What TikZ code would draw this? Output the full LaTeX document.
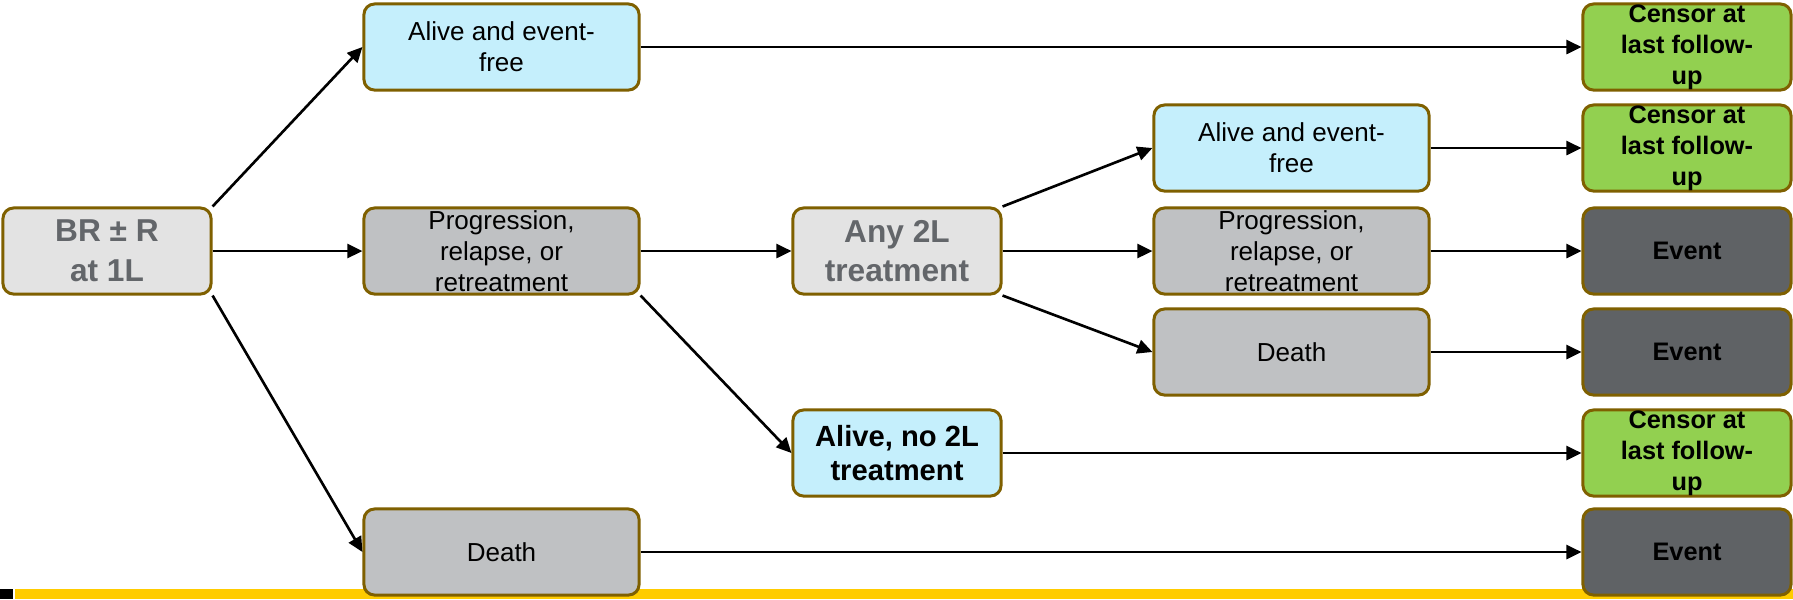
\documentclass[tikz,border=0pt]{standalone}
\usepackage{fontspec}
\setmainfont{Liberation Sans}
\usetikzlibrary{arrows.meta}

\definecolor{edgebrown}{HTML}{7F6000}
\definecolor{paleblue}{HTML}{C5EFFC}
\definecolor{midgray}{HTML}{BFC1C3}
\definecolor{lightgray}{HTML}{E3E3E3}
\definecolor{censorgreen}{HTML}{92D050}
\definecolor{eventgray}{HTML}{5F6265}
\definecolor{labelgray}{HTML}{63666A}
\definecolor{baryellow}{HTML}{FFCC00}

\begin{document}
\begin{tikzpicture}[x=0.01cm, y=-0.01cm,
    box/.style={draw=edgebrown, line width=0.85pt, rounded corners=3pt,
                align=center, inner xsep=2pt, inner ysep=0pt, minimum height=0.86cm},
    widebox/.style={box, minimum width=2.75cm},
    narrowbox/.style={box, minimum width=2.08cm},
    plain/.style={font=\fontsize{7.4}{8.8}\selectfont},
    smallbold/.style={font=\fontsize{7.2}{8.8}\selectfont\bfseries},
    bigbold/.style={font=\fontsize{9}{11.3}\selectfont\bfseries, text=labelgray},
    arr/.style={-{Triangle[length=0.15cm, width=0.14cm]}, line width=0.75pt}]

  \useasboundingbox (0, 0) rectangle (1793, 599);

  % bottom bar
  \fill[baryellow] (15, 589) rectangle (1793, 599);
  \fill[black] (0, 589) rectangle (13, 599);

  % first line
  \node[narrowbox, fill=lightgray, bigbold] (br) at (107, 251) {BR ± R\\at 1L};

  % outcomes after 1L
  \node[widebox, fill=paleblue, plain] (alive) at (501.5, 47) {Alive and event-\\free};
  \node[widebox, fill=midgray, plain] (prog) at (501.5, 251) {Progression,\\relapse, or\\retreatment};
  \node[widebox, fill=midgray, plain] (death) at (501.5, 552) {Death};

  % second line
  \node[narrowbox, fill=lightgray, bigbold] (anytwo) at (897, 251) {Any 2L\\treatment};
  \node[narrowbox, fill=paleblue, font=\fontsize{8.3}{9.7}\selectfont\bfseries] (notwo) at (897, 453) {Alive, no 2L\\treatment};

  % outcomes after 2L
  \node[widebox, fill=paleblue, plain] (alivetwo) at (1291.5, 148) {Alive and event-\\free};
  \node[widebox, fill=midgray, plain] (progtwo) at (1291.5, 251) {Progression,\\relapse, or\\retreatment};
  \node[widebox, fill=midgray, plain] (deathtwo) at (1291.5, 352) {Death};

  % censoring / events
  \node[narrowbox, fill=censorgreen, smallbold] (censora) at (1687, 47) {Censor at\\last follow-\\up};
  \node[narrowbox, fill=censorgreen, smallbold] (censorb) at (1687, 148) {Censor at\\last follow-\\up};
  \node[narrowbox, fill=eventgray, smallbold] (eventa) at (1687, 251) {Event};
  \node[narrowbox, fill=eventgray, smallbold] (eventb) at (1687, 352) {Event};
  \node[narrowbox, fill=censorgreen, smallbold] (censorc) at (1687, 453) {Censor at\\last follow-\\up};
  \node[narrowbox, fill=eventgray, smallbold] (eventc) at (1687, 552) {Event};

  \draw[arr] (br.north east) -- (alive.west);
  \draw[arr] (br.east) -- (prog.west);
  \draw[arr] (br.south east) -- (death.west);

  \draw[arr] (prog.east) -- (anytwo.west);
  \draw[arr] (prog.south east) -- (notwo.west);

  \draw[arr] (anytwo.north east) -- (alivetwo.west);
  \draw[arr] (anytwo.east) -- (progtwo.west);
  \draw[arr] (anytwo.south east) -- (deathtwo.west);

  \draw[arr] (alive.east) -- (censora.west);
  \draw[arr] (alivetwo.east) -- (censorb.west);
  \draw[arr] (progtwo.east) -- (eventa.west);
  \draw[arr] (deathtwo.east) -- (eventb.west);
  \draw[arr] (notwo.east) -- (censorc.west);
  \draw[arr] (death.east) -- (eventc.west);

\end{tikzpicture}
\end{document}
